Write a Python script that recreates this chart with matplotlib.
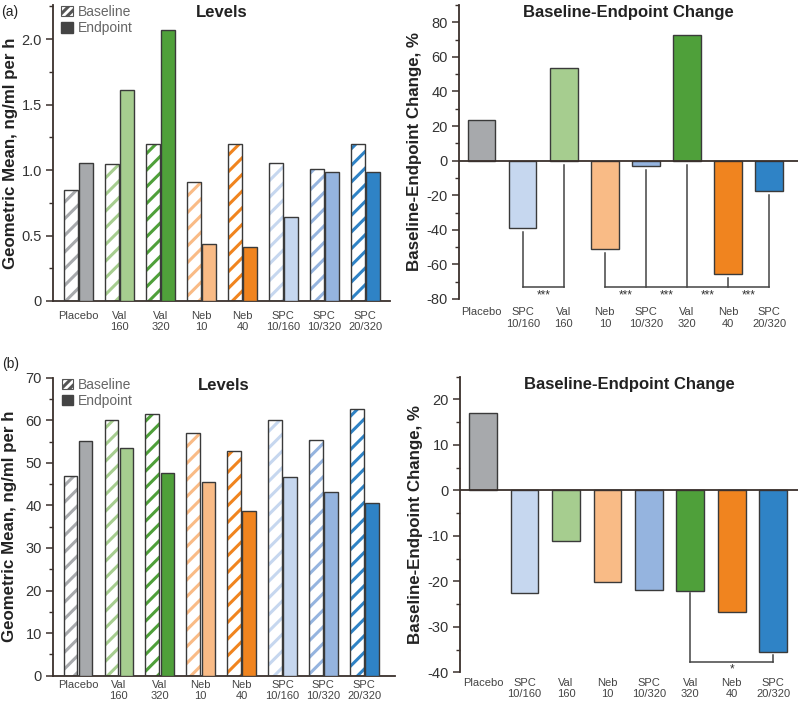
import matplotlib
matplotlib.use("Agg")
import matplotlib.pyplot as plt
from matplotlib.patches import Patch
from matplotlib.ticker import MultipleLocator

plt.rcParams['font.family'] = ['Liberation Sans', 'DejaVu Sans']
plt.rcParams['hatch.linewidth'] = 2.2
plt.rcParams['axes.unicode_minus'] = False

# categories of the "Levels" panels
levels_labels = ["Placebo", "Val\n160", "Val\n320", "Neb\n10", "Neb\n40",
                 "SPC\n10/160", "SPC\n10/320", "SPC\n20/320"]
levels_colors = ["#a7a9ac", "#a6cd8f", "#4fa03a", "#f9bb86", "#f0841f",
                 "#c6d7ef", "#95b4df", "#2f83c6"]

# (a) renin levels
a_baseline = [0.848, 1.047, 1.20, 0.907, 1.195, 1.05, 1.009, 1.197]
a_endpoint = [1.052, 1.613, 2.071, 0.436, 0.413, 0.642, 0.986, 0.986]

# (b) levels
b_baseline = [47.0, 60.1, 61.5, 57.0, 52.7, 60.1, 55.3, 62.6]
b_endpoint = [55.2, 53.5, 47.7, 45.4, 38.6, 46.6, 43.2, 40.6]

# categories of the "Change" panels
change_labels = ["Placebo", "SPC\n10/160", "Val\n160", "Neb\n10", "SPC\n10/320",
                 "Val\n320", "Neb\n40", "SPC\n20/320"]
change_colors = ["#a7a9ac", "#c6d7ef", "#a6cd8f", "#f9bb86", "#95b4df",
                 "#4fa03a", "#f0841f", "#2f83c6"]
a_change = [23.5, -38.7, 53.5, -51.0, -3.1, 72.9, -65.4, -17.3]
b_change = [17.1, -22.5, -11.1, -20.2, -22.0, -22.1, -26.7, -35.6]

# significance brackets: (bar indices, bracket level, star level, label)
a_brackets = [([1, 2], -73, -78, "***"), ([3, 4, 5, 6, 7], -73, -78, "***")]
b_brackets = [([5, 7], -37.7, -39.4, "*")]

edge = "#3a3a3a"
axis_col = "#3a302c"

fig = plt.figure(figsize=(8, 7.05), dpi=100)
W, H = 800, 705

def px_axes(x0, y0, x1, y1):
    return fig.add_axes([x0 / W, (H - y1) / H, (x1 - x0) / W, (y1 - y0) / H])

def style(ax, xpad):
    for s in ["top", "right"]:
        ax.spines[s].set_visible(False)
    for s in ["left", "bottom"]:
        ax.spines[s].set_color(axis_col)
        ax.spines[s].set_linewidth(1.3)
    ax.tick_params(axis="y", which="major", length=5, width=1.1, color=axis_col,
                   labelsize=10.5, labelcolor="#333333", pad=3)
    ax.tick_params(axis="y", which="minor", length=3, width=1.0, color=axis_col)
    ax.tick_params(axis="x", length=0, pad=xpad, labelsize=8, labelcolor="#444444")
    for t in ax.get_xticklabels():
        t.set_family(['Liberation Sans Narrow', 'Liberation Sans'])
        t.set_linespacing(1.15)

def levels(ax, base, end, ymax, major, minor, title, xpad):
    x = list(range(len(base)))
    xb = [i - 0.185 for i in x]
    xe = [i + 0.185 for i in x]
    ax.bar(xb, base, 0.33, color="white", edgecolor=levels_colors, hatch="//",
           linewidth=0, zorder=2)
    ax.bar(xb, base, 0.33, fill=False, edgecolor=edge, linewidth=1.0, zorder=3)
    ax.bar(xe, end, 0.33, color=levels_colors, edgecolor=edge, linewidth=1.0, zorder=3)
    ax.set_xticks(x)
    ax.set_xticklabels(levels_labels)
    ax.set_ylim(0, ymax)
    ax.yaxis.set_major_locator(MultipleLocator(major))
    ax.yaxis.set_minor_locator(MultipleLocator(minor))
    style(ax, xpad)
    ax.set_ylabel("Geometric Mean, ng/ml per h", fontsize=12.2, fontweight="bold",
                  color="#222222")
    ax.yaxis.set_label_coords(-0.105, 0.5)
    ax.text(0.5, 1.0, title, transform=ax.transAxes, ha="center", va="top",
            fontsize=12, fontweight="bold", color="#222222")
    handles = [Patch(facecolor="white", edgecolor="#555555", hatch="////", linewidth=0.8),
               Patch(facecolor="#444444", edgecolor="#444444")]
    ax.legend(handles, ["Baseline", "Endpoint"], loc="upper left",
              bbox_to_anchor=(0.025, 1.0), frameon=False, fontsize=10,
              labelcolor="#666666", handlelength=0.8, handleheight=0.8,
              handletextpad=0.4, labelspacing=0.15, borderpad=0, borderaxespad=0)

def change(ax, vals, ylo, yhi, major, minor, brackets, gap, xpad):
    x = list(range(len(vals)))
    ax.bar(x, vals, 0.67, color=change_colors, edgecolor=edge, linewidth=1.0, zorder=3)
    ax.axhline(0, color=axis_col, linewidth=1.3, zorder=4)
    ax.set_xticks(x)
    ax.set_xticklabels(change_labels)
    ax.set_ylim(ylo, yhi)
    ax.yaxis.set_major_locator(MultipleLocator(major))
    ax.yaxis.set_minor_locator(MultipleLocator(minor))
    style(ax, xpad)
    ax.spines["bottom"].set_visible(False)
    ax.set_ylabel("Baseline-Endpoint Change, %", fontsize=12.2, fontweight="bold",
                  color="#222222")
    ax.yaxis.set_label_coords(-0.11, 0.5)
    ax.text(0.5, 1.0, "Baseline-Endpoint Change", transform=ax.transAxes,
            ha="center", va="top", fontsize=12, fontweight="bold", color="#222222")
    for idx, level, star_y, star in brackets:
        for i in idx:
            top = min(vals[i], 0) - gap
            ax.plot([i, i], [top, level], color="#444444", lw=1.1, zorder=2)
        ax.plot([idx[0], idx[-1]], [level, level], color="#444444", lw=1.1, zorder=2)
        for i0, i1 in zip(idx[:-1], idx[1:]):
            ax.text((i0 + i1) / 2, star_y, star, ha="center", va="center",
                    fontsize=8.5, color="#333333")

axA1 = px_axes(53, 5, 390, 301)
levels(axA1, a_baseline, a_endpoint, 2.26, 0.5, 0.25, "Levels", 7)
axA1.set_xlim(-0.62, 7.6)
axA1.set_yticks([0, 0.5, 1.0, 1.5, 2.0])
axA1.set_yticklabels(["0", "0.5", "1.0", "1.5", "2.0"])

axA2 = px_axes(459, 5, 798, 299)
change(axA2, a_change, -80, 90, 20, 10, a_brackets, 2.5, 6)
axA2.set_xlim(-0.55, 7.7)

axB1 = px_axes(53, 377.7, 395, 675.7)
levels(axB1, b_baseline, b_endpoint, 70, 10, 5, "Levels", 3)
axB1.set_xlim(-0.61, 7.75)

axB2 = px_axes(460, 376.7, 798, 672.3)
change(axB2, b_change, -40, 25, 10, 5, b_brackets, 0.5, 4)
axB2.set_xlim(-0.56, 7.6)

fig.text(1 / W, 1 - 12 / H, "(a)", fontsize=10, va="center", ha="left", color="#222222")
fig.text(2 / W, 1 - 364 / H, "(b)", fontsize=10, va="center", ha="left", color="#222222")

fig.savefig("out.png", dpi=100)
